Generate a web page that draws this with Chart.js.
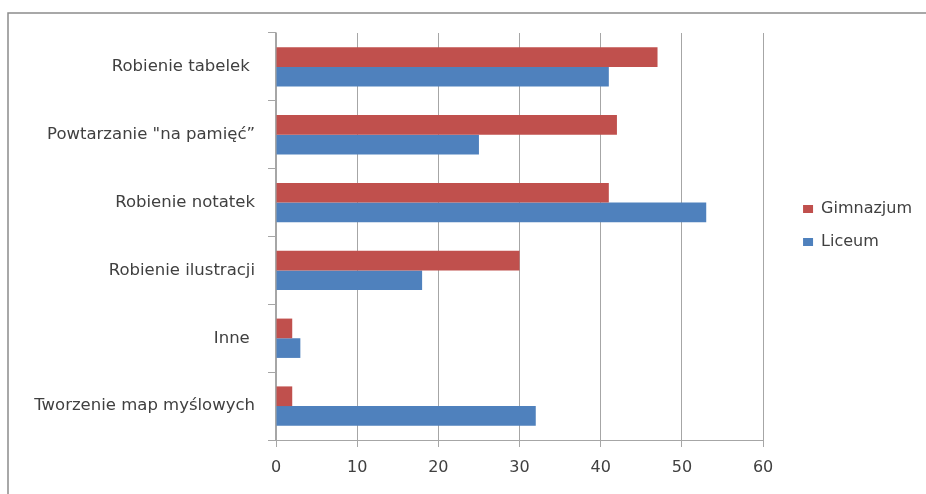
<!DOCTYPE html>
<html>
<head>
<meta charset="utf-8">
<script src="https://cdn.jsdelivr.net/npm/chart.js@4"></script>
<style>
  html, body { margin: 0; padding: 0; background: #fff; }
  #wrap { width: 926px; height: 494px; position: relative; }
</style>
</head>
<body>
<div id="wrap"><canvas id="myBar" width="926" height="494"></canvas></div>
<script>
var categories = ['Robienie tabelek ', 'Powtarzanie "na pamięć”', 'Robienie notatek', 'Robienie ilustracji', 'Inne ', 'Tworzenie map myślowych'];
var gimnazjum = [47, 42, 41, 30, 2, 2];
var liceum = [41, 25, 53, 18, 3, 32];
var xTicks = [0, 10, 20, 30, 40, 50, 60];

var fontFam = '"DejaVu Sans", sans-serif';
var textCol = '#404040';
var gridCol = '#A6A6A6';

// frame round the chart (only left and top edges show in the picture)
var framePlugin = {
  id: 'frame',
  beforeDraw: function(chart){
    var c = chart.ctx;
    c.save();
    c.strokeStyle = '#8C8C8C';
    c.lineWidth = 1.5;
    c.beginPath();
    c.moveTo(8, 494);
    c.lineTo(8, 13);
    c.lineTo(926, 13);
    c.stroke();
    c.restore();
  }
};

// push the legend away from the plot and up a bit
var legendShift = {
  id: 'legendShift',
  afterLayout: function(chart){
    var lg = chart.legend;
    if (lg) {
      lg.left += 23; lg.right += 23;
      lg.top -= 38; lg.bottom -= 38;
    }
  }
};

var ctx = document.getElementById('myBar').getContext('2d');
var myChart = new Chart(ctx, {
  type: 'bar',
  data: {
    labels: categories,
    datasets: [
      {
        label: 'Gimnazjum',
        data: gimnazjum,
        backgroundColor: '#C0504D',
        borderWidth: 0
      },
      {
        label: 'Liceum',
        data: liceum,
        backgroundColor: '#4F81BD',
        borderWidth: 0
      }
    ]
  },
  options: {
    indexAxis: 'y',
    responsive: false,
    animation: false,
    maintainAspectRatio: false,
    categoryPercentage: 0.58,
    barPercentage: 1.0,
    layout: { padding: { top: 33, left: 10, right: 27, bottom: 0 } },
    plugins: {
      title: { display: false },
      tooltip: { enabled: false },
      legend: {
        display: true,
        position: 'right',
        labels: {
          boxWidth: 10,
          boxHeight: 8,
          padding: 17,
          color: textCol,
          font: { family: fontFam, size: 16 }
        }
      }
    },
    scales: {
      x: {
        min: 0,
        max: 60,
        afterBuildTicks: function(scale){
          scale.ticks = xTicks.map(function(v){ return { value: v }; });
        },
        afterFit: function(scale){ scale.height = 54; },
        grid: {
          color: gridCol,
          lineWidth: 1,
          drawTicks: true,
          tickLength: 7,
          tickColor: gridCol
        },
        border: { color: gridCol, width: 1 },
        ticks: {
          padding: 11,
          color: textCol,
          font: { family: fontFam, size: 16 }
        }
      },
      y: {
        afterFit: function(scale){ scale.width = 266; },
        grid: {
          drawOnChartArea: false,
          drawTicks: true,
          tickLength: 8,
          offset: true,
          color: gridCol,
          tickColor: gridCol
        },
        border: { color: gridCol, width: 1.5 },
        ticks: {
          padding: 13,
          color: textCol,
          autoSkip: false,
          font: { family: fontFam, size: 16.5 }
        }
      }
    }
  },
  plugins: [framePlugin, legendShift]
});
</script>
</body>
</html>
